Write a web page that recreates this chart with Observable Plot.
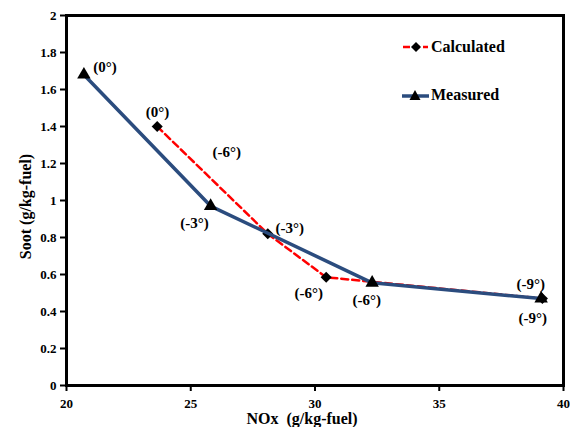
<!DOCTYPE html>
<html>
<head>
<meta charset="utf-8">
<script src="https://cdn.jsdelivr.net/npm/d3@7"></script>
<script src="https://cdn.jsdelivr.net/npm/@observablehq/plot@0.6"></script>
<style>
  html, body { margin: 0; padding: 0; background: #fff; }
  #wrap { position: relative; width: 570px; height: 427px; font-family: "Liberation Serif", "DejaVu Serif", serif; font-weight: 700; }
  #wrap svg text { font-family: "Liberation Serif", "DejaVu Serif", serif; font-weight: 700; }
  #legend { position: absolute; left: 400px; top: 35px; font-size: 16px; color: #000; }
  #legend .row { display: flex; align-items: center; height: 24px; }
  #legend .row + .row { margin-top: 24px; }
</style>
</head>
<body>
<div id="wrap"></div>
<script>
// ---- data ----
const timings = ["0°", "-3°", "-6°", "-9°"];
const measuredNOx  = [20.7, 25.8, 32.3, 39.1];
const measuredSoot = [1.68, 0.97, 0.555, 0.47];
const calculatedNOx  = [23.65, 28.1, 30.45, 39.15];
const calculatedSoot = [1.40, 0.82, 0.585, 0.47];

// annotation labels (text, anchor in data units)
const labelText = ["(0°)", "(0°)", "(-6°)", "(-3°)", "(-3°)", "(-6°)", "(-6°)", "(-9°)", "(-9°)"];
const labelX    = [21.55, 23.66, 26.45, 25.15, 28.98, 29.75, 32.08, 38.68, 38.76];
const labelY    = [1.72, 1.48, 1.26, 0.88, 0.85, 0.497, 0.46, 0.546, 0.362];

const xTicks = [20, 25, 30, 35, 40];
const yTicks = [0, 0.2, 0.4, 0.6, 0.8, 1, 1.2, 1.4, 1.6, 1.8, 2];

const measured = measuredNOx.map((x, i) => ({x, y: measuredSoot[i], t: timings[i]}));
const calculated = calculatedNOx.map((x, i) => ({x, y: calculatedSoot[i], t: timings[i]}));
const labels = labelText.map((text, i) => ({text, x: labelX[i], y: labelY[i]}));

const blue = "#2B4C7E";
const red = "#FF0000";
const serif = "'Liberation Serif', 'DejaVu Serif', serif";

const chart = Plot.plot({
  width: 570,
  height: 427,
  marginLeft: 66,
  marginRight: 7,
  marginTop: 15,
  marginBottom: 42,
  style: {fontFamily: serif, fontWeight: "bold", fontSize: "13px", color: "#000", background: "#fff"},
  x: {domain: [20, 40], ticks: xTicks, tickFormat: d => String(d)},
  y: {domain: [0, 2], ticks: yTicks, tickFormat: d => String(d)},
  marks: [
    Plot.axisX({ticks: xTicks, tickSize: 6, tickPadding: 7, tickFormat: d => String(d), fontSize: 13, stroke: "#000", strokeWidth: 2, label: null}),
    Plot.axisY({ticks: yTicks, tickSize: 6, tickPadding: 4, tickFormat: d => String(d), fontSize: 13, stroke: "#000", strokeWidth: 2, label: null}),
    Plot.frame({stroke: "#000", strokeWidth: 3}),
    Plot.line(calculated, {x: "x", y: "y", stroke: red, strokeWidth: 2.5, strokeDasharray: "7,4"}),
    Plot.dot(calculated, {x: "x", y: "y", symbol: "diamond2", r: 5, fill: "#000", stroke: "none"}),
    Plot.line(measured, {x: "x", y: "y", stroke: blue, strokeWidth: 3.5}),
    Plot.dot(measured, {x: "x", y: "y", symbol: "triangle", r: 5, fill: "#000", stroke: "none"}),
    Plot.text(labels, {x: "x", y: "y", text: "text", fontSize: 15, fontWeight: "bold", fontFamily: serif, fill: "#000"}),
    Plot.text(["NOx\u00a0 (g/kg-fuel)"], {frameAnchor: "bottom", textAnchor: "middle", lineAnchor: "middle", dx: -13, dy: 33, fontSize: 16, fontWeight: "bold", fontFamily: serif, fill: "#000"}),
    Plot.text(["Soot (g/kg-fuel)"], {frameAnchor: "left", textAnchor: "middle", lineAnchor: "middle", dx: -41, dy: 6, rotate: -90, fontSize: 16, fontWeight: "bold", fontFamily: serif, fill: "#000"})
  ]
});

const wrap = document.getElementById("wrap");
wrap.appendChild(chart);

// legend
const legend = document.createElement("div");
legend.id = "legend";
legend.innerHTML = `
  <div class="row"><svg width="31" height="14"><line x1="3" y1="7" x2="28" y2="7" stroke="${red}" stroke-width="2.5" stroke-dasharray="7,3"/><path d="M16,2 L21,7 L16,12 L11,7 Z" fill="#000"/></svg><span>Calculated</span></div>
  <div class="row"><svg width="31" height="14"><line x1="2" y1="8" x2="29" y2="8" stroke="${blue}" stroke-width="3.5"/><path d="M15,2 L20.5,12 L9.5,12 Z" fill="#000"/></svg><span>Measured</span></div>`;
wrap.appendChild(legend);
</script>
</body>
</html>
